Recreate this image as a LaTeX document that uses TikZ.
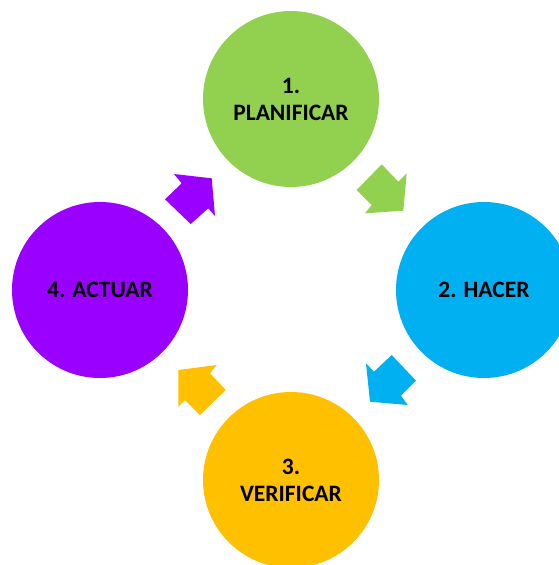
\documentclass[tikz,border=0pt]{standalone}
\usepackage{fontspec}
\setmainfont{Carlito}
\definecolor{cgreen}{HTML}{92D050}
\definecolor{cblue}{HTML}{00B0F0}
\definecolor{corange}{HTML}{FFC000}
\definecolor{cpurple}{HTML}{9900FF}
\begin{document}
\begin{tikzpicture}[x=1pt,y=-1pt,
  stage/.style={circle,minimum size=176pt,inner sep=0pt,align=center,
    font=\fontsize{23.5}{27}\selectfont\bfseries,text=black}]
\useasboundingbox (0,0) rectangle (559,565);
\clip (0,0) rectangle (559,565);
\node[stage,fill=cgreen] (plan) at (291,99) {1.\\PLANIFICAR};
\node[stage,fill=cblue] (hacer) at (484,290) {2. HACER};
\node[stage,fill=corange] (verif) at (291,480) {3.\\VERIFICAR};
\node[stage,fill=cpurple] (act) at (100,290) {4. ACTUAR};
% block arrows
\fill[cgreen] (381.7,164.3) -- (356.7,190) -- (371.7,205) -- (365,213.3) -- (403.3,210.7) -- (406.7,173.3) -- (398.3,181.7) -- cycle;
\fill[cblue] (391.7,355) -- (416,380.7) -- (401,395.7) -- (407.7,405) -- (370,401.7) -- (366,363.3) -- (374,371.7) -- cycle;
\fill[corange] (178.3,370) -- (216.7,365) -- (210,373.3) -- (225.7,390) -- (200,415) -- (185,400) -- (178.3,406.7) -- cycle;
\fill[cpurple] (211.7,178.3) -- (215,216) -- (208.3,208.3) -- (190.7,224) -- (165,199.3) -- (181.7,183.3) -- (174,174) -- cycle;
\end{tikzpicture}
\end{document}
